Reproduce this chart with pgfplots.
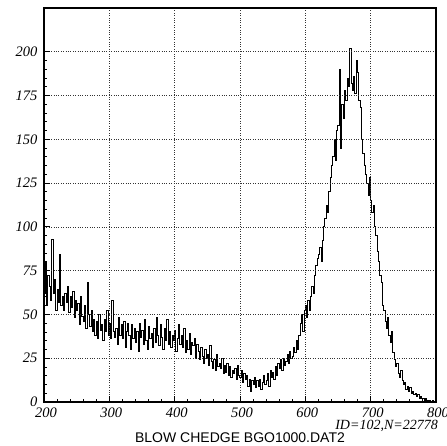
\documentclass[border=0pt]{standalone}
\usepackage{fontspec}
\setmainfont{Liberation Serif}
\setsansfont{Liberation Sans}
\usepackage{pgfplots}
\pgfplotsset{compat=1.18}
\begin{document}
\begin{tikzpicture}[x=1pt,y=1pt]
\begin{axis}[name=ax, at={(0,0)}, anchor=south west, scale only axis,
 width=392pt, height=394pt,
 xmin=200, xmax=800, ymin=0, ymax=225,
 xtick={200,300,...,800}, ytick={0,25,...,200},
 minor x tick num=4, minor y tick num=4,
 xtick pos=bottom, ytick pos=left, tick align=inside,
 major tick length=6pt, minor tick length=3pt,
 grid=major, major grid style={black!80, dotted, line width=0.7pt},
 axis line style={line width=1.3pt}, tick style={black, line width=0.9pt},
 ticklabel style={font=\fontsize{14.5}{16}\selectfont\itshape},
 /pgf/number format/assume math mode=true,
 xticklabel style={yshift=-2pt, xshift=2pt}, yticklabel style={xshift=-3pt},
 axis on top]
\addplot[const plot mark left, black, line width=1pt] table[row sep=\\] {
x y\\
200 62\\ 202 80\\ 204 55\\ 206 72\\ 208 66\\
210 58\\ 212 93\\ 214 62\\ 216 70\\ 218 52\\
220 64\\ 222 57\\ 224 84\\ 226 55\\ 228 60\\
230 52\\ 232 62\\ 234 57\\ 236 66\\ 238 51\\
240 60\\ 242 54\\ 244 63\\ 246 48\\ 248 58\\
250 52\\ 252 56\\ 254 44\\ 256 60\\ 258 49\\
260 46\\ 262 55\\ 264 42\\ 266 68\\ 268 50\\
270 43\\ 272 52\\ 274 40\\ 276 47\\ 278 38\\
280 46\\ 282 36\\ 284 50\\ 286 41\\ 288 44\\
290 35\\ 292 47\\ 294 40\\ 296 52\\ 298 38\\
300 45\\ 302 36\\ 304 58\\ 306 40\\ 308 37\\
310 42\\ 312 33\\ 314 48\\ 316 38\\ 318 44\\
320 36\\ 322 46\\ 324 31\\ 326 40\\ 328 45\\
330 38\\ 332 30\\ 334 44\\ 336 36\\ 338 42\\
340 34\\ 342 40\\ 344 29\\ 346 45\\ 348 37\\
350 41\\ 352 33\\ 354 47\\ 356 35\\ 358 30\\
360 43\\ 362 36\\ 364 39\\ 366 31\\ 368 42\\
370 34\\ 372 48\\ 374 38\\ 376 32\\ 378 44\\
380 37\\ 382 30\\ 384 42\\ 386 35\\ 388 47\\
390 33\\ 392 40\\ 394 31\\ 396 38\\ 398 35\\
400 41\\ 402 29\\ 404 36\\ 406 44\\ 408 33\\
410 38\\ 412 31\\ 414 42\\ 416 28\\ 418 35\\
420 30\\ 422 39\\ 424 27\\ 426 34\\ 428 32\\
430 36\\ 432 25\\ 434 33\\ 436 29\\ 438 24\\
440 31\\ 442 26\\ 444 22\\ 446 30\\ 448 25\\
450 27\\ 452 21\\ 454 32\\ 456 23\\ 458 19\\
460 24\\ 462 18\\ 464 27\\ 466 20\\ 468 22\\
470 19\\ 472 25\\ 474 16\\ 476 21\\ 478 17\\
480 22\\ 482 15\\ 484 20\\ 486 14\\ 488 18\\
490 16\\ 492 19\\ 494 13\\ 496 21\\ 498 15\\
500 14\\ 502 18\\ 504 11\\ 506 16\\ 508 13\\
510 15\\ 512 9\\ 514 13\\ 516 6\\ 518 12\\
520 10\\ 522 14\\ 524 8\\ 526 12\\ 528 9\\
530 13\\ 532 7\\ 534 11\\ 536 15\\ 538 10\\
540 12\\ 542 16\\ 544 9\\ 546 18\\ 548 14\\
550 17\\ 552 13\\ 554 20\\ 556 15\\ 558 22\\
560 19\\ 562 24\\ 564 18\\ 566 25\\ 568 21\\
570 23\\ 572 27\\ 574 22\\ 576 29\\ 578 25\\
580 26\\ 582 31\\ 584 28\\ 586 35\\ 588 30\\
590 38\\ 592 45\\ 594 50\\ 596 40\\ 598 52\\
600 55\\ 602 48\\ 604 58\\ 606 52\\ 608 60\\
610 66\\ 612 62\\ 614 72\\ 616 78\\ 618 82\\
620 84\\ 622 88\\ 624 80\\ 626 92\\ 628 100\\
630 105\\ 632 112\\ 634 108\\ 636 120\\ 638 128\\
640 135\\ 642 140\\ 644 150\\ 646 138\\ 648 155\\
650 158\\ 652 190\\ 654 145\\ 656 170\\ 658 162\\
660 178\\ 662 172\\ 664 185\\ 666 180\\ 668 202\\
670 182\\ 672 178\\ 674 186\\ 676 176\\ 678 195\\
680 188\\ 682 172\\ 684 168\\ 686 150\\ 688 142\\
690 135\\ 692 130\\ 694 125\\ 696 118\\ 698 128\\
700 115\\ 702 108\\ 704 112\\ 706 100\\ 708 95\\
710 86\\ 712 80\\ 714 72\\ 716 68\\ 718 55\\
720 52\\ 722 46\\ 724 42\\ 726 48\\ 728 38\\
730 34\\ 732 40\\ 734 28\\ 736 24\\ 738 20\\
740 22\\ 742 16\\ 744 14\\ 746 18\\ 748 12\\
750 10\\ 752 11\\ 754 7\\ 756 9\\ 758 6\\
760 8\\ 762 5\\ 764 6\\ 766 4\\ 768 5\\
770 3\\ 772 4\\ 774 2\\ 776 3\\ 778 2\\
780 2\\ 782 1\\ 784 2\\ 786 1\\ 788 1\\
790 1\\ 792 0\\ 794 1\\ 796 0\\ 798 0\\
800 0\\
};
\end{axis}
\node[font=\fontsize{14}{16}\selectfont\sffamily] at ([yshift=-36pt]ax.south) {BLOW CHEDGE BGO1000.DAT2};
\node[font=\fontsize{14}{16}\selectfont\itshape, anchor=east, inner sep=0pt] at ([yshift=-24pt, xshift=2pt]ax.south east) {ID=102,N=22778};
\pgfresetboundingbox
\path (-44,-44) rectangle (403,402);
\end{tikzpicture}
\end{document}
